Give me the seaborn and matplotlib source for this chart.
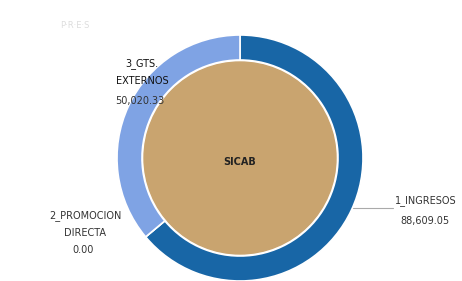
import numpy as np
import matplotlib.pyplot as plt
import seaborn as sns

sns.set_theme(style='white')
plt.rcParams['font.family'] = ['DejaVu Sans']

# data
categories = ['1_INGRESOS', '2_PROMOCION\nDIRECTA', '3_GTS.\nEXTERNOS']
values = [88609.05, 0.00, 50020.33]
value_labels = ['88,609.05', '0.00', '50,020.33']
colors = ['#1866a6', '#7fa3e4', '#7fa3e4']
center_label = 'SICAB'

W, H = 462, 281
fig = plt.figure(figsize=(W / 100, H / 100), dpi=100)
ax = fig.add_axes([0, 0, 1, 1])

cx, cy = 240, H - 158
r_out, ring_w = 123, 25

ax.pie(values, colors=colors, startangle=90, counterclock=False,
       center=(cx, cy), radius=r_out, frame=True,
       wedgeprops=dict(width=ring_w, edgecolor='white', linewidth=1.2))
ax.add_patch(plt.Circle((cx, cy), r_out - ring_w - 2, color='#c9a46f', zorder=3))

ax.set_xlim(0, W)
ax.set_ylim(0, H)
ax.set_aspect('equal')
ax.axis('off')

ax.text(cx, H - 162, center_label, ha='center', va='center', fontsize=7,
        fontweight='bold', color='#222222', zorder=4)

txt = dict(fontsize=7, color='#333333', zorder=4)
# 1_INGRESOS
ax.plot([353, 393], [H - 208, H - 208], color='#aaaaaa', lw=0.8)
ax.text(395, H - 201, categories[0], ha='left', va='center', **txt)
ax.text(400, H - 221, value_labels[0], ha='left', va='center', **txt)
# 2_PROMOCION DIRECTA
ax.text(85, H - 224, categories[1], ha='center', va='center', linespacing=1.8, **txt)
ax.text(83, H - 250, value_labels[1], ha='center', va='center', **txt)
# 3_GTS. EXTERNOS
ax.text(142, H - 72, categories[2], ha='center', va='center', linespacing=1.8,
        fontsize=7, color='#111111', zorder=4)
ax.text(140, H - 101, value_labels[2], ha='center', va='center', **txt)

# faint logo
ax.text(60, H - 25, 'P·R·E·S', ha='left', va='center', fontsize=6, color='#dddddd')

fig.savefig('out.png', dpi=100)
